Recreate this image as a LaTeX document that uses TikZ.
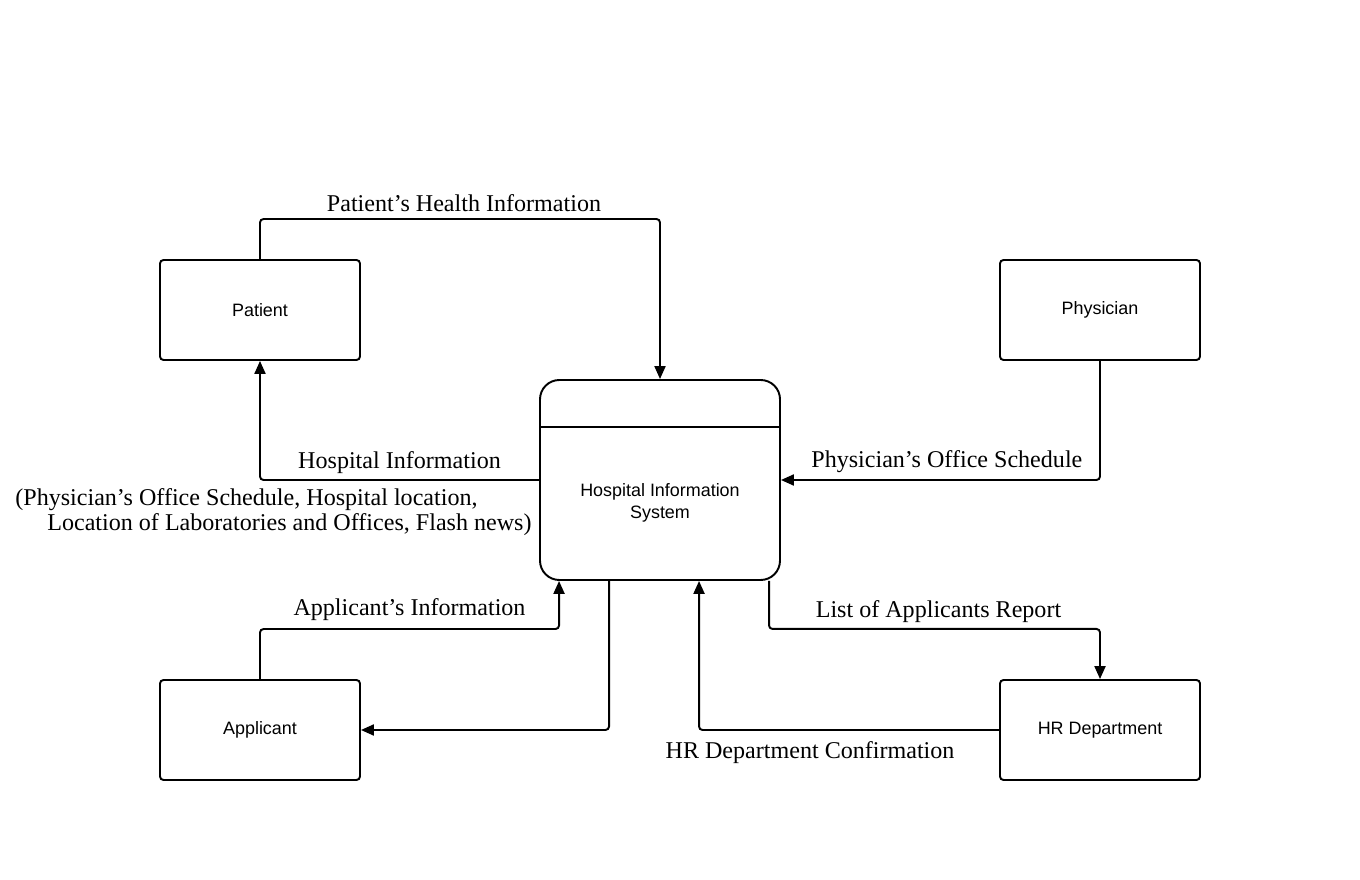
\documentclass[tikz,border=0pt]{standalone}
\usepackage{fontspec}
\setmainfont{Liberation Serif}
\newfontfamily\boxfont{Liberation Sans}
\usepackage{tikz}
\usetikzlibrary{positioning, arrows.meta}

\begin{document}
\begin{tikzpicture}[>={Triangle[length=7.4pt,width=6.3pt]},
    entity/.style={draw, line width=1.1pt, rounded corners=2pt, minimum width=4cm, minimum height=2cm, font=\boxfont\fontsize{10.2}{12.5}\selectfont},
    process/.style={draw, line width=1.1pt, rounded corners=11pt, minimum width=4.8cm, minimum height=4cm},
    flow/.style={->, line width=1.1pt, rounded corners=2pt},
    flowlabel/.style={font=\fontsize{13.7}{14.2}\selectfont}]

\useasboundingbox (0,0) rectangle (27.2,17.58);

% External entities
\foreach \name/\txt/\x/\y in {patient/Patient/5.2/11.38, physician/Physician/22/11.38, applicant/Applicant/5.2/2.98, hr/HR Department/22/2.98}
    \node[entity] (\name) at (\x, \y) {\txt};

% Process
\node[process] (his) at (13.2, 7.98) {};
\draw[line width=1.1pt] ([yshift=-0.96cm]his.north west) -- ([yshift=-0.96cm]his.north east);
\node[align=center, font=\boxfont\fontsize{10.2}{12.5}\selectfont] (histext) at ([yshift=-0.46cm]his.center) {Hospital Information\\System};

% Data flows
\draw[flow] (patient.north) -- ++(0,0.8) -| (his.north)
    node[flowlabel, pos=0.255, above] {Patient’s Health Information};
\draw[flow] (his.west) -| (patient.south)
    node[flowlabel, pos=0.25, above] {Hospital Information};
\draw[flow] (physician.south) |- (his.east)
    node[flowlabel, pos=0.74, above] {Physician’s Office Schedule};
\draw[flow] (applicant.north) -- ++(0,1) -| ([xshift=0.4cm]his.south west)
    node[flowlabel, pos=0.25, above, yshift=0.04cm] {Applicant’s Information};
\draw[flow] ([xshift=1.4cm]his.south west) |- (applicant.east);
\draw[flow] (hr.west) -| ([xshift=3.2cm]his.south west)
    node[flowlabel, pos=0.315, below, yshift=-0.1cm] {HR Department Confirmation};
\draw[flow] ([xshift=4.6cm]his.south west) -- ++(0,-0.96) -| (hr.north)
    node[flowlabel, pos=0.256, above] {List of Applicants Report};

% Labels
\node[flowlabel, align=left, anchor=north west, inner sep=0] (hosplist) at (0.3, 7.82)
    {(Physician’s Office Schedule, Hospital location,\\\hspace*{0.64cm}Location of Laboratories and Offices, Flash news)};

\end{tikzpicture}
\end{document}
